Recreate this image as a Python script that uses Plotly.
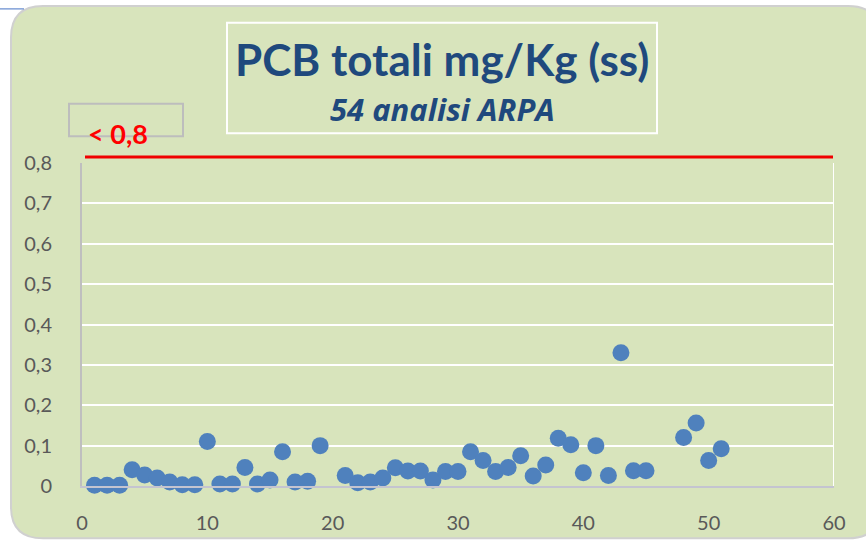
import plotly.graph_objects as go

# campioni (numero analisi) e PCB totali mg/Kg (ss)
campione = [1, 2, 3, 4, 5, 6, 7, 8, 9, 10, 11, 12, 13, 14, 15, 16, 17, 18, 19,
            21, 22, 23, 24, 25, 26, 27, 28, 29, 30, 31, 32, 33, 34, 35, 36, 37,
            38, 39, 40, 41, 42, 43, 44, 45, 48, 49, 50, 51]
pcb = [0.002, 0.002, 0.002, 0.040, 0.027, 0.020, 0.010, 0.003, 0.003, 0.110,
       0.005, 0.005, 0.046, 0.005, 0.015, 0.085, 0.010, 0.012, 0.100,
       0.026, 0.008, 0.010, 0.020, 0.045, 0.037, 0.037, 0.015, 0.036, 0.036,
       0.085, 0.063, 0.036, 0.046, 0.075, 0.025, 0.052, 0.118, 0.102, 0.033,
       0.100, 0.026, 0.330, 0.038, 0.038, 0.120, 0.156, 0.063, 0.092]
limite = 0.8
y_ticks = [0, 0.1, 0.2, 0.3, 0.4, 0.5, 0.6, 0.7, 0.8]
x_ticks = [0, 10, 20, 30, 40, 50, 60]

W, H = 866, 546
L, R, T, B = 82, 32, 163, 56
PW, PH = W - L - R, H - T - B
FONT = "Lato, 'Open Sans', sans-serif"


def px(x):
    return (x - L) / PW


def py(y):
    return (H - B - y) / PH


fig = go.Figure()
fig.add_trace(go.Scatter(
    x=campione, y=pcb, mode="markers",
    marker=dict(size=17, color="#4F81BD", line=dict(width=0)),
    cliponaxis=False, showlegend=False,
))

shapes = []
# sfondo verde arrotondato
x0, x1, y0, y1, r = 11, 880, 4, 543, 32
path = (f"M {px(x0 + r)},{py(y0)} L {px(x1 - r)},{py(y0)} "
        f"Q {px(x1)},{py(y0)} {px(x1)},{py(y0 + r)} "
        f"L {px(x1)},{py(y1 - r)} Q {px(x1)},{py(y1)} {px(x1 - r)},{py(y1)} "
        f"L {px(x0 + r)},{py(y1)} Q {px(x0)},{py(y1)} {px(x0)},{py(y1 - r)} "
        f"L {px(x0)},{py(y0 + r)} Q {px(x0)},{py(y0)} {px(x0 + r)},{py(y0)} Z")
shapes.append(dict(type="path", xref="paper", yref="paper", path=path,
                   fillcolor="#D8E4BC", line=dict(color="#D0D0D0", width=2),
                   layer="below"))
# linea blu in alto a sinistra
shapes.append(dict(type="line", xref="paper", yref="paper",
                   x0=px(0), x1=px(24), y0=py(7), y1=py(7),
                   line=dict(color="#4472C4", width=1)))
# riquadro titolo
shapes.append(dict(type="rect", xref="paper", yref="paper",
                   x0=px(227), x1=px(657), y0=py(21), y1=py(133),
                   line=dict(color="white", width=2)))
# riquadro grigio piccolo
shapes.append(dict(type="rect", xref="paper", yref="paper",
                   x0=px(69), x1=px(183), y0=py(103), y1=py(136),
                   line=dict(color="#BDBDBD", width=2)))
# bordo destro area grafico
shapes.append(dict(type="line", xref="x", yref="y", x0=60, x1=60, y0=0, y1=0.8,
                   line=dict(color="white", width=2), layer="below"))
# linea limite rossa (poco sopra 0,8)
shapes.append(dict(type="line", xref="paper", yref="paper", x0=px(85), x1=px(833),
                   y0=py(157), y1=py(157),
                   line=dict(color="#F00000", width=3)))

annotations = [
    dict(text="<b>PCB totali mg/Kg (ss)</b>", xref="paper", yref="paper",
         x=px(442), y=py(58), yanchor="middle", showarrow=False,
         font=dict(family=FONT, size=44, color="#1F497D")),
    dict(text="<b><i>54 analisi ARPA</i></b>", xref="paper", yref="paper",
         x=px(442), y=py(108), yanchor="middle", showarrow=False,
         font=dict(family="'Open Sans', sans-serif", size=31, color="#1F497D")),
    dict(text="<b>< 0,8</b>", xref="paper", yref="paper",
         x=px(86), y=py(133), xanchor="left", yanchor="middle", showarrow=False,
         font=dict(family=FONT, size=27, color="#FF0000")),
]

fig.update_layout(
    width=W, height=H,
    margin=dict(l=L, r=R, t=T, b=B),
    paper_bgcolor="white", plot_bgcolor="rgba(0,0,0,0)",
    separators=",.",
    font=dict(family=FONT, size=20, color="#595959"),
    shapes=shapes, annotations=annotations,
    xaxis=dict(range=[0, 60], tickvals=x_ticks, showgrid=False, zeroline=False,
               showline=True, linecolor="#C4C4D0", linewidth=2,
               ticks="", ticklabelstandoff=18),
    yaxis=dict(range=[0, 0.8], tickvals=y_ticks, showgrid=True,
               gridcolor="white", gridwidth=2, zeroline=False,
               showline=True, linecolor="#BFBFBF", linewidth=2,
               ticks="", ticklabelstandoff=24),
)

# niente margine del body, così la figura parte da (0,0)
fig.write_html("out.html", config={"displayModeBar": False},
               post_script="document.body.style.margin='0';")
